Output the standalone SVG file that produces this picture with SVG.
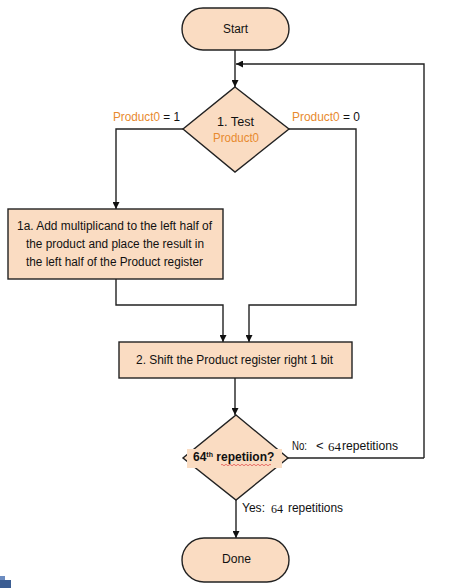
<svg xmlns="http://www.w3.org/2000/svg" width="454" height="588" viewBox="0 0 454 588">
  <defs>
    <marker id="arrow" viewBox="0 0 8 8" refX="8" refY="4" markerWidth="7" markerHeight="7" markerUnits="userSpaceOnUse" orient="auto">
      <path d="M0,0 L8,4 L0,8 Z" fill="#111"/>
    </marker>
  </defs>
  <style>
    .shape { fill: #fadcc2; stroke: #222; stroke-width: 1.4; }
    .wire { fill: none; stroke: #222; stroke-width: 1.4; marker-end: url(#arrow); }
    .plain { fill: none; stroke: #222; stroke-width: 1.4; }
    text { font-family: "Liberation Sans", Arial, sans-serif; font-size: 12px; fill: #111; }
    .mid { text-anchor: middle; }
    .orange { fill: #e88a2e; }
    .lbl { font-size: 13px; }
    .serif { font-family: "Liberation Serif", "Times New Roman", serif; font-size: 13px; }
  </style>
  <rect width="454" height="588" fill="#ffffff"/>

  <!-- connectors -->
  <g id="connectors">
    <path class="wire" d="M235,50 V87"/>
    <path class="wire" d="M424,458 V64 H236"/>
    <path class="wire" d="M183,129 H116 V209"/>
    <path class="wire" d="M289,129 H356 V305 H249 V342"/>
    <path class="wire" d="M116,279 V305 H223 V342"/>
    <path class="wire" d="M235,378 V415"/>
    <path class="plain" d="M288,458 H424"/>
    <path class="wire" d="M236,500 V538"/>
  </g>

  <!-- start terminal -->
  <g id="start">
    <rect class="shape" x="182" y="8" width="107" height="42" rx="21" ry="21"/>
    <text class="mid" x="235.5" y="33" textLength="25" lengthAdjust="spacingAndGlyphs">Start</text>
  </g>

  <!-- decision: test Product0 -->
  <g id="test">
    <polygon class="shape" points="235,87 289,129 235,172 183,129"/>
    <text class="mid" x="235.5" y="126" textLength="37" lengthAdjust="spacingAndGlyphs">1. Test</text>
    <text class="mid orange" x="236" y="142" textLength="46" lengthAdjust="spacingAndGlyphs">Product0</text>
  </g>
  <g id="label-one">
    <text x="113" y="121" textLength="67" lengthAdjust="spacingAndGlyphs"><tspan class="orange">Product0</tspan> = 1</text>
  </g>
  <g id="label-zero">
    <text x="292" y="121" textLength="68" lengthAdjust="spacingAndGlyphs"><tspan class="orange">Product0</tspan> = 0</text>
  </g>

  <!-- step 1a -->
  <g id="add">
    <rect class="shape" x="8" y="209" width="215" height="70"/>
    <text class="mid" x="114.5" y="230" textLength="195" lengthAdjust="spacingAndGlyphs">1a. Add multiplicand to the left half of</text>
    <text class="mid" x="115" y="248" textLength="178" lengthAdjust="spacingAndGlyphs">the product and place the result in</text>
    <text class="mid" x="114.5" y="266" textLength="177" lengthAdjust="spacingAndGlyphs">the left half of the Product register</text>
  </g>

  <!-- step 2 -->
  <g id="shift">
    <rect class="shape" x="119" y="342" width="233" height="36"/>
    <text class="mid" x="234.5" y="364" textLength="197" lengthAdjust="spacingAndGlyphs">2. Shift the Product register right 1 bit</text>
  </g>

  <!-- decision: repetition count -->
  <g id="repeat">
    <polygon class="shape" points="236,415 288,458 236,500 183,458"/>
    <rect x="187" y="449" width="95" height="19" fill="#fadcc2"/>
    <text x="193" y="461" font-weight="bold" font-size="11px">64<tspan font-size="7px" dy="-4">th</tspan><tspan dy="4"> repetiion?</tspan></text>
    <path d="M221,465 q1,-1.5 2,0 t2,0 t2,0 t2,0 t2,0 t2,0 t2,0 t2,0 t2,0 t2,0 t2,0 t2,0 t2,0 t2,0 t2,0 t2,0 t2,0 t2,0 t2,0 t2,0 t2,0 t2,0 t2,0 t2,0 t2,0" fill="none" stroke="#e04040" stroke-width="0.7"/>
  </g>
  <g id="label-no">
    <text class="lbl" x="292" y="450" textLength="15" lengthAdjust="spacingAndGlyphs">No:</text>
    <text class="lbl" x="316" y="450">&lt;</text>
    <text class="serif" x="328" y="451" textLength="13" lengthAdjust="spacingAndGlyphs">64</text>
    <text class="lbl" x="342" y="450" textLength="56" lengthAdjust="spacingAndGlyphs">repetitions</text>
  </g>
  <g id="label-yes">
    <text class="lbl" x="242" y="512" textLength="23" lengthAdjust="spacingAndGlyphs">Yes:</text>
    <text class="serif" x="271" y="513" textLength="12" lengthAdjust="spacingAndGlyphs">64</text>
    <text class="lbl" x="288" y="512" textLength="55" lengthAdjust="spacingAndGlyphs">repetitions</text>
  </g>

  <!-- done terminal -->
  <g id="done">
    <rect class="shape" x="182" y="538" width="107" height="44" rx="22" ry="22"/>
    <text class="mid" x="236.5" y="563" textLength="29" lengthAdjust="spacingAndGlyphs">Done</text>
  </g>

  <!-- corner icon -->
  <rect x="0" y="580" width="11" height="8" fill="#3b5d92"/>
  <rect x="0" y="576" width="5" height="4" fill="#6c8cc0"/>
</svg>
